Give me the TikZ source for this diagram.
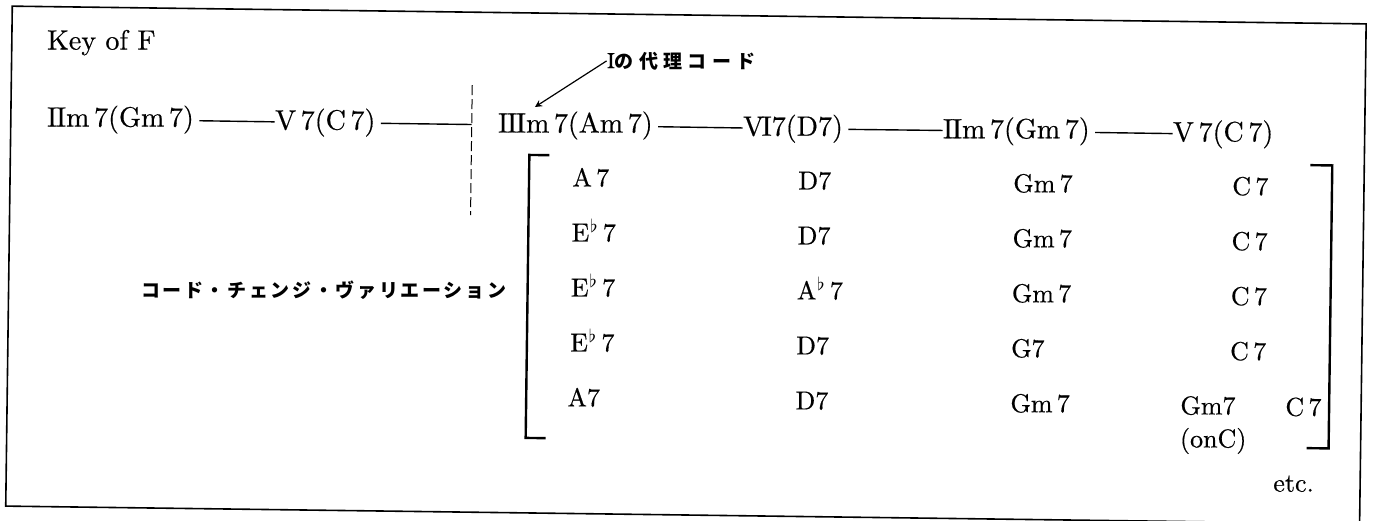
\documentclass[tikz,border=0pt]{standalone}
\usepackage{fontspec}
\setmainfont{lmroman10-regular.otf}[FakeBold=0.4]
\newfontfamily\jpfont{Noto Sans CJK JP}[LetterSpace=14]
\newcommand{\numII}{I\kern-0.6pt I}
\newcommand{\numIII}{I\kern-0.6pt I\kern-0.6pt I}
\newcommand{\numVI}{V\kern-1.2pt I}
\newcommand{\flatmark}{\kern0.5pt$^{\flat}$}
\tikzset{
  chord/.style={inner sep=0pt, anchor=base west, font=\fontsize{14}{16}\selectfont},
  altchord/.style={inner sep=0pt, anchor=base west, font=\fontsize{13}{15}\selectfont},
  jplabel/.style={inner sep=0pt, font=\jpfont\bfseries\fontsize{9.5}{11}\selectfont},
  linkline/.style={line width=0.7pt, shorten <=2.5pt},
  brk/.style={line width=1.2pt},
}
\begin{document}
\begin{tikzpicture}[x=0.5pt, y=-0.5pt, >=stealth]
  \useasboundingbox (0,0) rectangle (1374,520);
  \begin{scope}[rotate around={-0.75:(687,260)}]
    % Frame
    \draw[line width=0.8pt] (9,15) rectangle (1363,515);

    % Nodes
    \node[chord] (key) at (44,58) {Key of F};
    \node[chord] (ii) at (45,135) {\numII m\,7(Gm\,7)};
    \node[chord] (v) at (273,135) {V\,7(C\,7)};
    \node[chord] (iii) at (496,135) {\numIII m\,7(Am\,7)};
    \node[chord] (vi) at (741,135) {\numVI 7(D7)};
    \node[chord] (ii2) at (941,135) {\numII m\,7(Gm\,7)};
    \node[chord] (v2) at (1171,135) {V\,7(C\,7)};
    \coordinate (cuttop) at (470,88);
    \coordinate (cutbot) at (470,218);

    % Connections
    \draw[linkline] (ii) -- (v);
    \draw[linkline] (v) -- (v -| cuttop);
    \draw[line width=0.5pt, dash pattern=on 5pt off 2pt] (cuttop) -- (cutbot);
    \draw[linkline] (iii) -- (vi);
    \draw[linkline] (vi) -- (ii2);
    \draw[linkline] (ii2) -- (v2);

    % Annotations
    \node[jplabel, anchor=west] (sub) at (604,62)
      {{\rmfamily\mdseries\fontsize{11}{12}\selectfont I}\addfontfeature{LetterSpace=28}の代理コード};
    \coordinate (subtip) at (533,109);
    \draw[->, line width=0.6pt] (sub.west) -- (subtip);

    \node[jplabel, anchor=east] (variation) at (507,293) {コード・チェンジ・ヴァリエーション};

    % Variations
    \node[altchord] (a1) at (571,188) {A\,7};
    \node[altchord] (a2) at (571,243) {E\flatmark\,7};
    \node[altchord] (a3) at (571,298) {E\flatmark\,7};
    \node[altchord] (a4) at (571,353) {E\flatmark\,7};
    \node[altchord] (a5) at (569,408) {A7};
    \node[altchord] (b1) at (797,188) {D7};
    \node[altchord] (b2) at (797,243) {D7};
    \node[altchord] (b3) at (797,298) {A\flatmark\,7};
    \node[altchord] (b4) at (797,353) {D7};
    \node[altchord] (b5) at (797,408) {D7};
    \node[altchord] (c1) at (1012,188) {Gm\,7};
    \node[altchord] (c2) at (1012,243) {Gm\,7};
    \node[altchord] (c3) at (1012,298) {Gm\,7};
    \node[altchord] (c4) at (1012,353) {G7};
    \node[altchord] (c5) at (1012,408) {Gm\,7};
    \node[altchord] (d1) at (1231,188) {C\,7};
    \node[altchord] (d2) at (1231,243) {C\,7};
    \node[altchord] (d3) at (1231,298) {C\,7};
    \node[altchord] (d4) at (1231,353) {C\,7};
    \node[altchord] (d5) at (1182,408) {Gm7};
    \node[altchord] (d5c) at (1287,408) {C\,7};
    \node[altchord] (onc) at (1182,441) {(onC)};
    \node[altchord] (etc) at (1276,484) {etc.};

    % Brackets
    \draw[brk] (548,157) -- (528,157) -- (528,440) -- (548,440);
    \draw[brk] (1309,157) -- (1331,157) -- (1331,440) -- (1309,440);
  \end{scope}
\end{tikzpicture}
\end{document}
